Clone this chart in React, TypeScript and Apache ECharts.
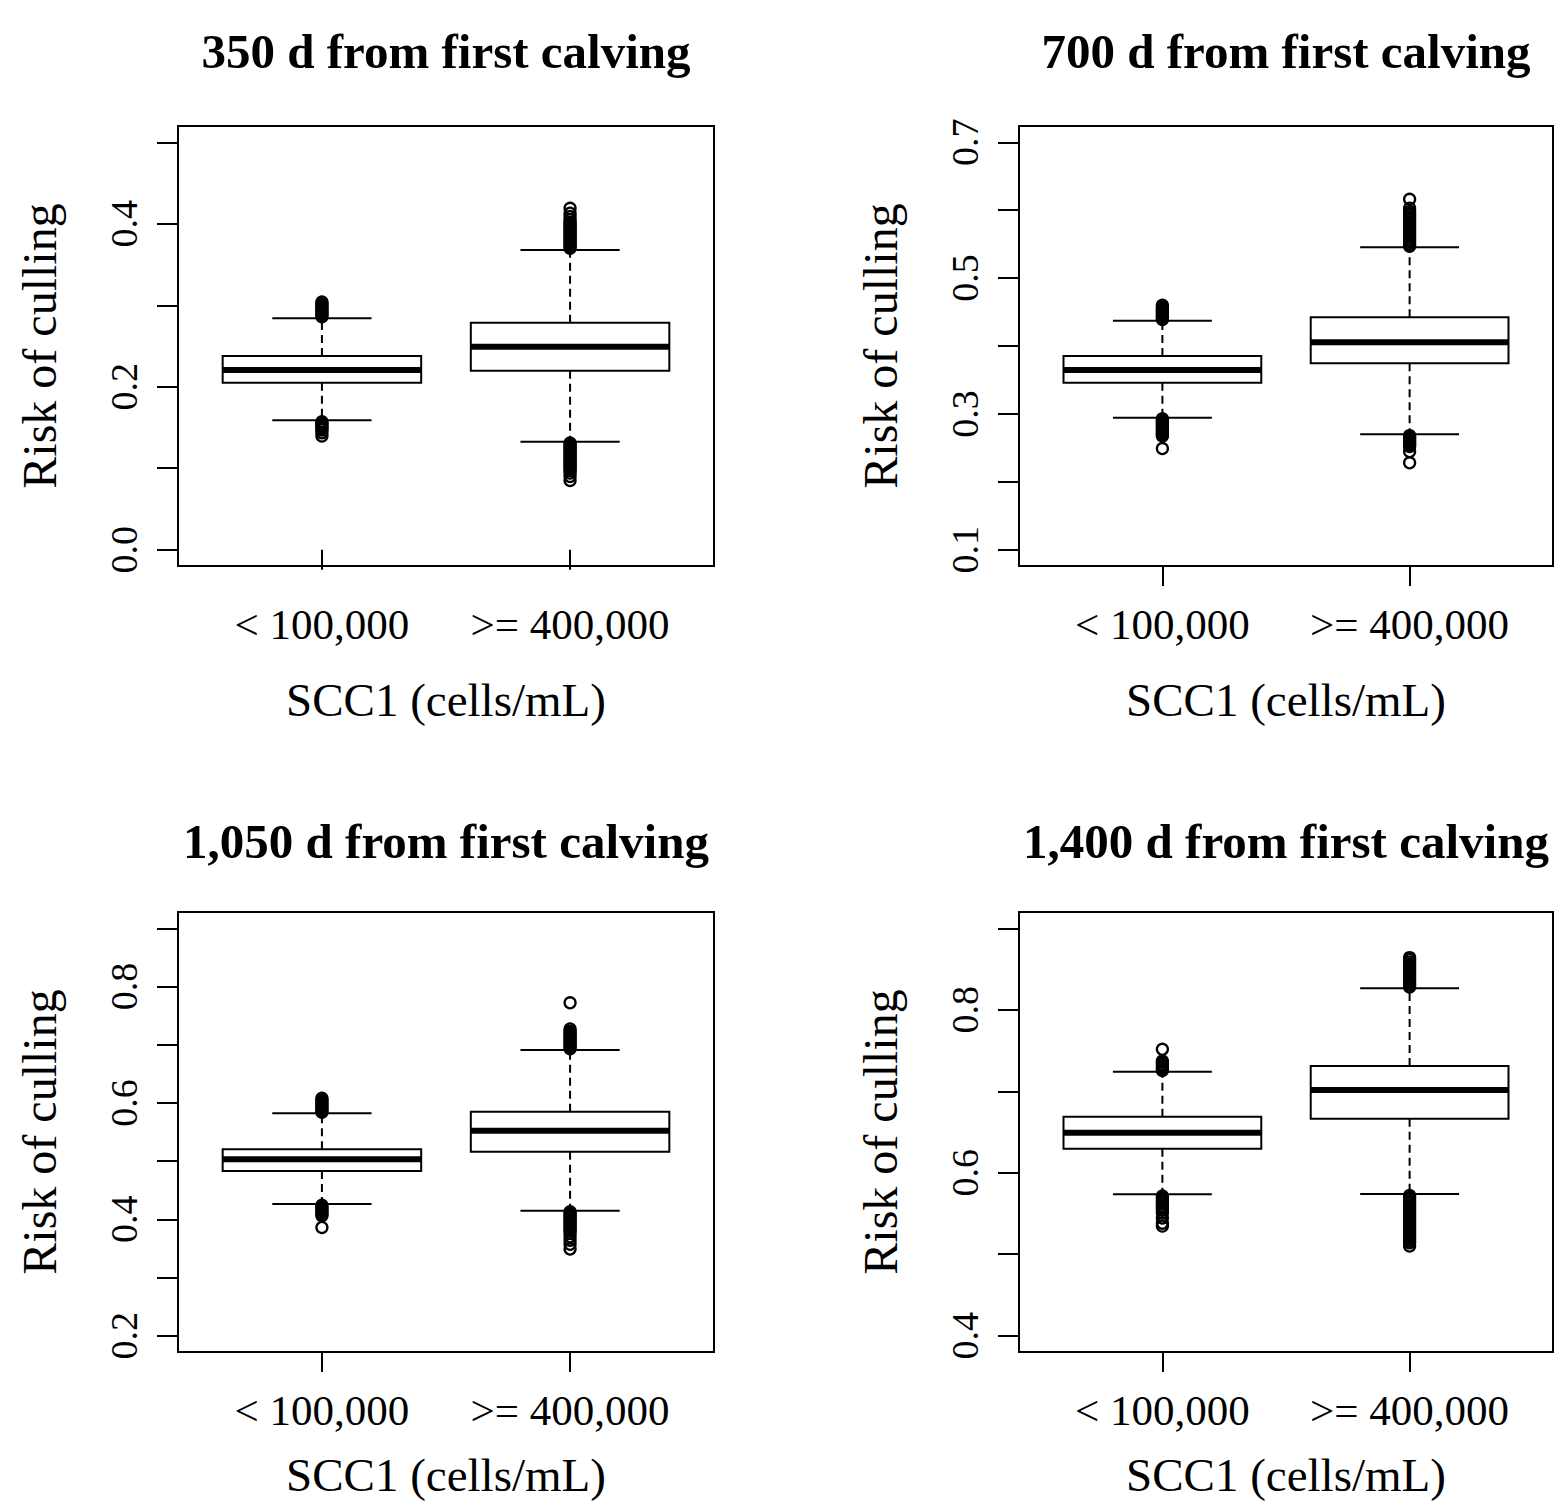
import React, { useEffect, useRef } from 'react';
import * as echarts from 'echarts';

// ---------- data ----------
const categories = ['< 100,000', '>= 400,000'];
const categoryPositions = [1, 2];
const panelTitles = [
  '350 d from first calving',
  '700 d from first calving',
  '1,050 d from first calving',
  '1,400 d from first calving',
];
const yAxisTitle = 'Risk of culling';
const xAxisTitle = 'SCC1 (cells/mL)';

// y limits (R ylim extended by 4%)
const yLimits350 = [-0.02, 0.52];
const yLimits700 = [0.076, 0.724];
const yLimits1050 = [0.172, 0.928];
const yLimits1400 = [0.38, 0.92];

// tick positions and labelled ticks
const yTicks350 = [0, 0.1, 0.2, 0.3, 0.4, 0.5];
const yLabels350 = [0, 0.2, 0.4];
const yTicks700 = [0.1, 0.2, 0.3, 0.4, 0.5, 0.6, 0.7];
const yLabels700 = [0.1, 0.3, 0.5, 0.7];
const yTicks1050 = [0.2, 0.3, 0.4, 0.5, 0.6, 0.7, 0.8, 0.9];
const yLabels1050 = [0.2, 0.4, 0.6, 0.8];
const yTicks1400 = [0.4, 0.5, 0.6, 0.7, 0.8, 0.9];
const yLabels1400 = [0.4, 0.6, 0.8];

// five-number summaries: [lower whisker, Q1, median, Q3, upper whisker]
const stats350Low = [0.159, 0.205, 0.2205, 0.2377, 0.284];
const stats350High = [0.1326, 0.2197, 0.2492, 0.2786, 0.3678];
const stats700Low = [0.2944, 0.346, 0.3647, 0.3853, 0.4373];
const stats700High = [0.27, 0.3745, 0.4054, 0.4423, 0.5454];
const stats1050Low = [0.4263, 0.483, 0.5031, 0.5203, 0.5821];
const stats1050High = [0.4148, 0.5162, 0.5522, 0.5849, 0.6909];
const stats1400Low = [0.5735, 0.6295, 0.6491, 0.6688, 0.724];
const stats1400High = [0.5739, 0.6663, 0.7016, 0.731, 0.8264];

// outliers
const outliers350Low = [
  0.286, 0.288, 0.29, 0.292, 0.294, 0.296, 0.298, 0.3, 0.302, 0.304,
  0.157, 0.155, 0.153, 0.151, 0.149, 0.147, 0.1435, 0.1395,
];
const outliers350High = [
  0.37, 0.372, 0.374, 0.376, 0.378, 0.38, 0.382, 0.384, 0.386, 0.388, 0.39, 0.392, 0.394,
  0.396, 0.398, 0.4, 0.402, 0.405, 0.409, 0.413, 0.419,
  0.131, 0.129, 0.127, 0.125, 0.123, 0.121, 0.119, 0.117, 0.115, 0.113, 0.111, 0.109,
  0.107, 0.105, 0.103, 0.101, 0.099, 0.097, 0.094, 0.09, 0.085,
];
const outliers700Low = [
  0.439, 0.441, 0.443, 0.445, 0.447, 0.449, 0.451, 0.453, 0.455, 0.457, 0.46,
  0.293, 0.291, 0.289, 0.287, 0.285, 0.283, 0.281, 0.279, 0.277, 0.275, 0.273, 0.271,
  0.269, 0.2675, 0.249,
];
const outliers700High = [
  0.547, 0.55, 0.553, 0.556, 0.559, 0.562, 0.565, 0.568, 0.571, 0.574, 0.577, 0.58, 0.583,
  0.586, 0.589, 0.592, 0.595, 0.598, 0.603, 0.616,
  0.268, 0.266, 0.264, 0.262, 0.26, 0.258, 0.256, 0.254, 0.252, 0.2445, 0.228,
];
const outliers1050Low = [
  0.584, 0.587, 0.59, 0.593, 0.596, 0.599, 0.602, 0.605, 0.608,
  0.424, 0.421, 0.418, 0.415, 0.412, 0.409, 0.406, 0.386,
];
const outliers1050High = [
  0.693, 0.696, 0.699, 0.702, 0.705, 0.708, 0.711, 0.714, 0.717, 0.72, 0.723, 0.727, 0.772,
  0.413, 0.41, 0.407, 0.404, 0.401, 0.398, 0.395, 0.392, 0.389, 0.386, 0.383, 0.38, 0.376,
  0.37, 0.364, 0.357, 0.349,
];
const outliers1400Low = [
  0.7255, 0.728, 0.7305, 0.733, 0.7355, 0.737, 0.7515,
  0.5715, 0.569, 0.5665, 0.564, 0.5615, 0.559, 0.5565, 0.554, 0.5505, 0.5445, 0.538, 0.5345,
];
const outliers1400High = [
  0.828, 0.8305, 0.833, 0.8355, 0.838, 0.8405, 0.843, 0.8455, 0.848, 0.8505, 0.853, 0.8555,
  0.8585, 0.8615, 0.864,
  0.572, 0.5695, 0.567, 0.5645, 0.562, 0.5595, 0.557, 0.5545, 0.552, 0.5495, 0.547, 0.5445,
  0.542, 0.5395, 0.537, 0.534, 0.5315, 0.529, 0.5265, 0.524, 0.5215, 0.519, 0.5165, 0.514, 0.51,
];

// ---------- layout / style ----------
const W = 1554;
const H = 1501;
const FONT = '"Liberation Serif", "Times New Roman", serif';
const X_MIN = 0.42;
const X_MAX = 2.58;
const BOX_HALF = 0.4;
const CAP_HALF = 0.2;
const gridBoxes = [
  { left: 178, top: 126, width: 536, height: 440 },
  { left: 1019, top: 126, width: 534, height: 440 },
  { left: 178, top: 912, width: 536, height: 440 },
  { left: 1019, top: 912, width: 534, height: 440 },
];
const titleY = [51, 51, 841, 841];
const xNameGap = [110, 110, 99, 99];

const panels = [
  { stats: [stats350Low, stats350High], outliers: [outliers350Low, outliers350High], limits: yLimits350, ticks: yTicks350, labels: yLabels350 },
  { stats: [stats700Low, stats700High], outliers: [outliers700Low, outliers700High], limits: yLimits700, ticks: yTicks700, labels: yLabels700 },
  { stats: [stats1050Low, stats1050High], outliers: [outliers1050Low, outliers1050High], limits: yLimits1050, ticks: yTicks1050, labels: yLabels1050 },
  { stats: [stats1400Low, stats1400High], outliers: [outliers1400Low, outliers1400High], limits: yLimits1400, ticks: yTicks1400, labels: yLabels1400 },
];

function renderBox(params: any, api: any) {
  const x = api.value(0);
  const lo = api.coord([x, api.value(1)]);
  const q1 = api.coord([x, api.value(2)])[1];
  const med = api.coord([x, api.value(3)])[1];
  const q3 = api.coord([x, api.value(4)])[1];
  const hi = api.coord([x, api.value(5)])[1];
  const cx = lo[0];
  const yLo = lo[1];
  const halfW = api.size([BOX_HALF, 0])[0];
  const capW = api.size([CAP_HALF, 0])[0];
  const solid = { stroke: '#000', lineWidth: 2 };
  const dashed = { stroke: '#000', lineWidth: 2, lineDash: [8, 5] };
  return {
    type: 'group',
    children: [
      { type: 'line', shape: { x1: cx, y1: q3, x2: cx, y2: hi }, style: dashed },
      { type: 'line', shape: { x1: cx, y1: q1, x2: cx, y2: yLo }, style: dashed },
      { type: 'line', shape: { x1: cx - capW, y1: hi, x2: cx + capW, y2: hi }, style: solid },
      { type: 'line', shape: { x1: cx - capW, y1: yLo, x2: cx + capW, y2: yLo }, style: solid },
      {
        type: 'rect',
        shape: { x: cx - halfW, y: q3, width: 2 * halfW, height: q1 - q3 },
        style: { fill: '#fff', stroke: '#000', lineWidth: 2 },
      },
      { type: 'line', shape: { x1: cx - halfW, y1: med, x2: cx + halfW, y2: med }, style: { stroke: '#000', lineWidth: 6 } },
    ],
  };
}

function renderOutlier(params: any, api: any) {
  const p = api.coord([api.value(0), api.value(1)]);
  return {
    type: 'circle',
    shape: { cx: p[0], cy: p[1], r: 5.5 },
    style: { fill: 'none', stroke: '#000', lineWidth: 2.3 },
  };
}

function buildOption() {
  const grid: any[] = [];
  const xAxis: any[] = [];
  const yAxis: any[] = [];
  const series: any[] = [];
  const graphic: any[] = [];

  panels.forEach((p, i) => {
    const g = gridBoxes[i];
    grid.push({
      ...g,
      show: true,
      borderColor: '#000',
      borderWidth: 2,
      backgroundColor: 'transparent',
      containLabel: false,
      outerBoundsMode: 'none',
    });
    xAxis.push({
      type: 'value',
      gridIndex: i,
      min: X_MIN,
      max: X_MAX,
      axisLine: { show: false },
      splitLine: { show: false },
      axisTick: { show: true, customValues: categoryPositions, length: 20, lineStyle: { color: '#000', width: 2 } },
      axisLabel: {
        show: true,
        customValues: categoryPositions,
        formatter: (v: number) => categories[categoryPositions.indexOf(Math.round(v))],
        margin: 37,
        fontSize: 43,
        lineHeight: 43,
        fontFamily: FONT,
        color: '#000',
      },
      name: xAxisTitle,
      nameLocation: 'middle',
      nameGap: xNameGap[i],
      nameTextStyle: { fontSize: 47, lineHeight: 47, fontFamily: FONT, color: '#000' },
    });
    yAxis.push({
      type: 'value',
      gridIndex: i,
      min: p.limits[0],
      max: p.limits[1],
      axisLine: { show: false },
      splitLine: { show: false },
      axisTick: { show: true, customValues: p.ticks, length: 21, lineStyle: { color: '#000', width: 2 } },
      axisLabel: {
        show: true,
        customValues: p.labels,
        rotate: 90,
        formatter: (v: number) => v.toFixed(1),
        margin: 35,
        fontSize: 38,
        lineHeight: 38,
        fontFamily: FONT,
        color: '#000',
      },
      name: yAxisTitle,
      nameLocation: 'middle',
      nameGap: 115,
      nameTextStyle: { fontSize: 48, lineHeight: 48, fontFamily: FONT, color: '#000' },
    });
    series.push({
      type: 'custom',
      xAxisIndex: i,
      yAxisIndex: i,
      renderItem: renderBox,
      encode: { x: 0, y: [1, 2, 3, 4, 5] },
      data: p.stats.map((s, k) => [categoryPositions[k], ...s]),
      z: 2,
    });
    series.push({
      type: 'custom',
      xAxisIndex: i,
      yAxisIndex: i,
      renderItem: renderOutlier,
      encode: { x: 0, y: 1 },
      data: p.outliers.flatMap((arr, k) => arr.map((v) => [categoryPositions[k], v])),
      z: 3,
    });
    graphic.push({
      type: 'text',
      x: g.left + g.width / 2,
      y: titleY[i],
      style: {
        text: panelTitles[i],
        font: `bold 49px ${FONT}`,
        fill: '#000',
        textAlign: 'center',
        textVerticalAlign: 'middle',
      },
    });
  });

  return {
    animation: false,
    backgroundColor: '#fff',
    grid,
    xAxis,
    yAxis,
    series,
    graphic,
  };
}

export default function App() {
  const ref = useRef<HTMLDivElement>(null);
  useEffect(() => {
    if (!ref.current) return;
    const chart = echarts.init(ref.current, null, { renderer: 'svg' });
    chart.setOption(buildOption() as any);
    return () => chart.dispose();
  }, []);
  return (
    <div
      ref={ref}
      style={{ position: 'absolute', left: 0, top: 0, width: W, height: H, background: '#fff' }}
    />
  );
}
